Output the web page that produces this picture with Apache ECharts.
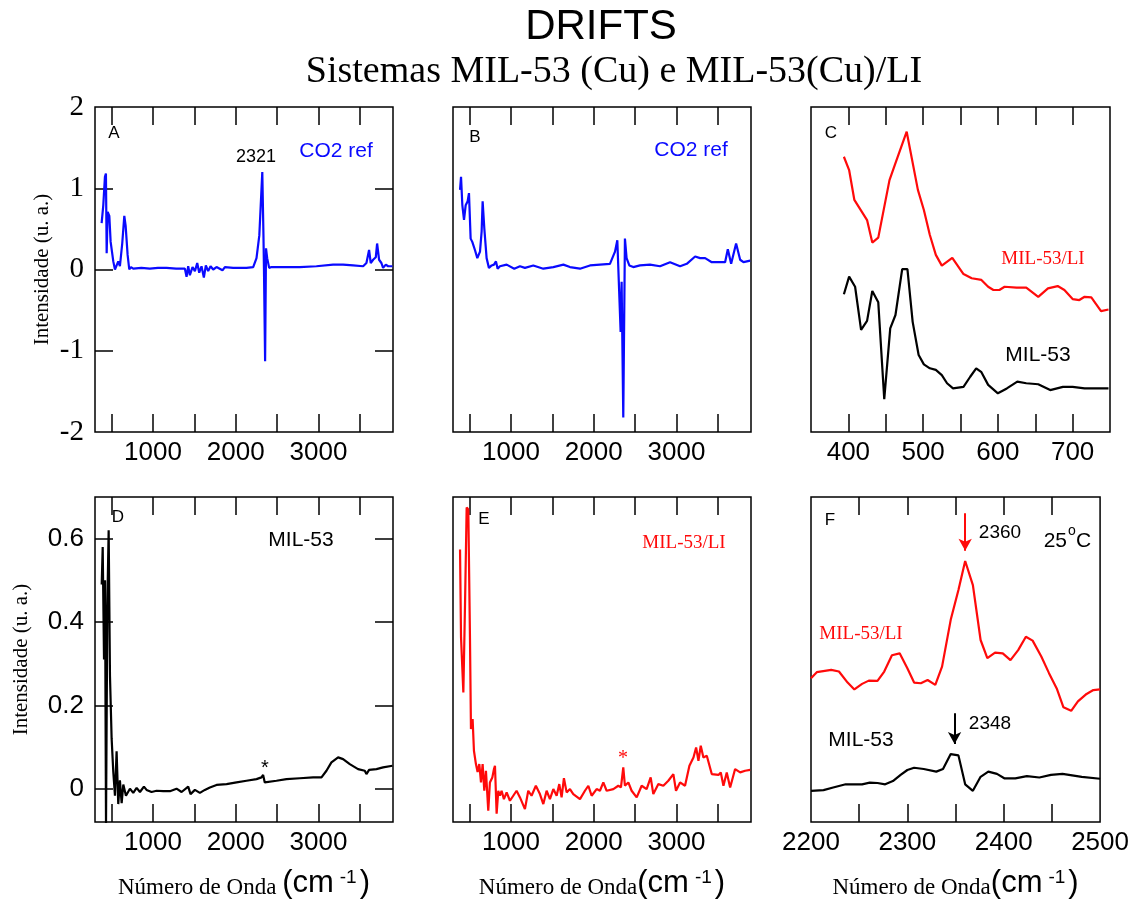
<!DOCTYPE html>
<html>
<head>
<meta charset="utf-8">
<script src="https://cdn.jsdelivr.net/npm/echarts@6/dist/echarts.min.js"></script>
<style>
  html, body { margin: 0; padding: 0; background: #fff; }
  #chart { width: 1132px; height: 904px; }
</style>
</head>
<body>
<div id="chart"></div>
<script>
// [wavenumber, intensity]
const co2RefA = [[380,0.57],[400,0.79],[420,1.14],[432,1.18],[441,0.2],[453,0.71],[473,0.66],[489,0.34],[521,0.1],[541,0],[561,-0.02],[581,0.1],[601,0.04],[629,0.32],[654,0.66],[670,0.54],[694,0.18],[714,0],[734,0.03],[762,0.01],[860,0.02],[963,0.01],[1060,0.02],[1164,0.02],[1280,0.01],[1386,0.01],[1406,-0.09],[1426,0.04],[1446,-0.07],[1478,0.03],[1507,-0.02],[1535,0.08],[1559,-0.04],[1587,0.04],[1615,-0.1],[1639,0.05],[1667,-0.02],[1696,0.04],[1728,0],[1768,0.03],[1840,-0.01],[1869,0.03],[1969,0.02],[2130,0.02],[2211,0.03],[2251,0.14],[2285,0.42],[2321,1.2],[2335,0.42],[2341,0.02],[2355,-1.13],[2366,0.26],[2380,0.14],[2404,0.02],[2432,0.03],[2613,0.03],[2774,0.03],[2975,0.04],[3176,0.06],[3297,0.06],[3418,0.05],[3539,0.04],[3579,0.08],[3611,0.24],[3631,0.08],[3660,0.12],[3692,0.15],[3708,0.32],[3732,0.12],[3760,0.08],[3780,0.02],[3813,0.06],[3841,0.04],[3893,0.04]];
const co2RefB = [[385,0.98],[397,1.14],[413,0.79],[433,0.61],[453,0.79],[477,0.84],[493,0.94],[513,0.38],[533,0.34],[565,0.24],[594,0.14],[626,0.22],[646,0.47],[658,0.84],[678,0.51],[706,0.14],[734,0.02],[767,0.05],[795,0.06],[819,0.1],[839,0.01],[867,0.04],[948,0.06],[1040,0.01],[1109,0.04],[1169,0.02],[1270,0.05],[1391,0.01],[1512,0.03],[1633,0.06],[1713,0.03],[1834,0.01],[1955,0.05],[2075,0.06],[2196,0.07],[2257,0.22],[2285,0.36],[2309,0.36],[2325,-0.77],[2337,-0.15],[2357,-1.82],[2377,0.38],[2397,0.14],[2430,0.05],[2478,0.03],[2559,0.05],[2680,0.06],[2801,0.04],[2922,0.09],[3043,0.04],[3124,0.07],[3225,0.16],[3285,0.14],[3346,0.14],[3426,0.09],[3527,0.09],[3587,0.09],[3620,0.25],[3660,0.07],[3720,0.32],[3769,0.12],[3809,0.09],[3890,0.11]];

// panel C, relative intensity (0-100 of the frame height)
const mil53LiC = [[394,84.7],[401,80.6],[408,71.4],[425,65.2],[432,58.3],[440,59.8],[455,77.5],[463,82.7],[478,92.4],[493,74.5],[501,68.3],[509,60.6],[517,54.5],[525,51.2],[539,53.6],[554,48.6],[565,47.3],[578,46.8],[587,44.7],[594,43.7],[602,43.7],[609,44.7],[625,44.4],[638,44.4],[654,41.6],[667,44.2],[680,44.9],[689,43.7],[700,40.9],[709,40.6],[716,41.6],[725,41.4],[738,37.2],[748,37.7]];
const mil53C = [[394,42.4],[401,47.8],[409,44.7],[417,31.4],[425,34.2],[432,43.4],[440,39.9],[448,10.1],[456,31.9],[463,36],[472,50.1],[479,50.1],[486,33.9],[494,23.7],[501,20.8],[509,19.6],[517,19.1],[525,17.5],[532,15],[540,13.4],[554,13.9],[563,17],[571,19.6],[578,18.4],[587,14.5],[600,11.9],[612,13.4],[626,15.5],[638,15],[654,14.7],[670,12.9],[687,13.9],[700,13.9],[716,13.4],[748,13.4]];

const mil53D = [[381,0.49],[393,0.58],[409,0.31],[421,0.5],[433,-0.085],[449,0.44],[465,0.62],[481,0.27],[501,0.12],[521,0.04],[541,-0.017],[561,0.09],[581,-0.037],[601,0.02],[622,-0.035],[642,0.01],[674,-0.017],[722,0],[762,-0.01],[803,0.002],[843,-0.008],[891,0.005],[923,-0.003],[983,-0.008],[1044,-0.005],[1124,-0.006],[1205,-0.006],[1285,0],[1346,-0.008],[1426,0.005],[1454,-0.013],[1507,-0.003],[1567,-0.01],[1627,-0.003],[1688,0.003],[1768,0.009],[1889,0.011],[2010,0.015],[2130,0.019],[2251,0.023],[2311,0.027],[2331,0.033],[2351,0.015],[2372,0.019],[2492,0.019],[2613,0.023],[2774,0.025],[2935,0.027],[3036,0.027],[3096,0.043],[3156,0.063],[3237,0.075],[3297,0.071],[3378,0.059],[3478,0.047],[3559,0.043],[3579,0.035],[3611,0.045],[3700,0.047],[3780,0.051],[3893,0.055]];
const mil53LiE = [[385,0.574],[397,0.363],[425,0.231],[445,0.44],[465,0.675],[485,0.67],[505,0.363],[517,0.143],[537,0.167],[553,0.091],[577,0.059],[597,0.04],[618,0.059],[638,0.015],[658,0.059],[678,-0.005],[698,0.043],[726,-0.053],[746,0.015],[775,0.027],[795,0.047],[807,0.055],[827,-0.06],[847,-0.005],[867,-0.017],[887,-0.005],[915,-0.025],[948,-0.009],[988,-0.029],[1028,-0.017],[1068,-0.005],[1109,-0.021],[1169,-0.049],[1209,-0.005],[1249,-0.017],[1301,0.007],[1350,-0.013],[1391,-0.037],[1431,-0.005],[1471,-0.025],[1512,-0.001],[1552,-0.017],[1584,0.011],[1612,-0.021],[1640,0.025],[1673,-0.009],[1713,-0.001],[1753,-0.013],[1834,-0.025],[1894,-0.005],[1935,0.007],[1975,-0.017],[2035,-0.001],[2075,-0.005],[2116,0.015],[2156,-0.005],[2237,-0.001],[2297,0.007],[2329,0.003],[2357,0.051],[2377,0.007],[2418,0.015],[2458,-0.005],[2519,-0.021],[2579,0.007],[2639,-0.001],[2688,0.027],[2720,-0.013],[2781,0.011],[2841,0.007],[2901,0.019],[2962,0.035],[2994,-0.005],[3043,0.015],[3103,0.007],[3156,0.055],[3205,0.075],[3237,0.099],[3265,0.067],[3293,0.103],[3325,0.075],[3366,0.079],[3426,0.035],[3507,0.033],[3535,0.039],[3567,0.007],[3607,0.039],[3648,0.003],[3708,0.047],[3769,0.039],[3829,0.043],[3890,0.045]];

// panel F, relative intensity (0-100 of the frame height)
const mil53LiF = [[2200,44.2],[2206,46.1],[2221,46.8],[2229,46.3],[2238,42.9],[2245,40.8],[2253,42.5],[2260,43.5],[2269,43.4],[2276,46.3],[2284,51.3],[2292,51.9],[2300,47.3],[2307,42.9],[2314,42.7],[2321,43.7],[2329,42.2],[2336,47.8],[2345,62.2],[2353,71.4],[2360,80.3],[2368,72.9],[2376,56],[2383,50.4],[2391,52.1],[2399,51.9],[2407,49.8],[2415,52.9],[2423,57],[2430,55.8],[2439,50.9],[2447,45.8],[2455,41.1],[2462,35.3],[2470,34.2],[2477,37.1],[2486,39.4],[2493,40.6],[2500,40.8]];
const mil53F = [[2200,9.6],[2213,9.8],[2223,10.6],[2236,11.6],[2253,11.6],[2261,12.1],[2269,12],[2277,11.6],[2285,12.6],[2293,14.5],[2300,16],[2307,16.7],[2317,16.3],[2330,15.5],[2337,16.3],[2345,20.9],[2353,20.5],[2360,11.6],[2368,9.6],[2376,13.9],[2384,15.5],[2393,14.8],[2401,13.4],[2412,13.4],[2424,14.1],[2437,13.7],[2449,14.5],[2461,14.8],[2481,13.9],[2500,13.3]];

// ticks and tick labels
const wideTicks = [500, 1000, 1500, 2000, 2500, 3000, 3500];
const wideLabels = [1000, 2000, 3000];
const lowTicks = [400, 450, 500, 550, 600, 650, 700];
const lowLabels = [400, 500, 600, 700];
const co2Ticks = [2250, 2300, 2350, 2400, 2450];
const co2Labels = [2200, 2300, 2400, 2500];
const refYTicks = [-1, 0, 1];
const refYLabels = [-2, -1, 0, 1, 2];
const dYTicks = [0, 0.2, 0.4, 0.6];

const SANS = '"Liberation Sans", Arial, Helvetica, sans-serif';
const SERIF = '"Liberation Serif", "Times New Roman", serif';
const BLUE = '#0a0aff';
const RED = '#ff0a0a';
const TICK_LEN = 18;
const FRAME_H = 325;

const grids = [
  { left: 95, top: 107, width: 298, height: FRAME_H },
  { left: 453, top: 107, width: 298, height: FRAME_H },
  { left: 811, top: 107, width: 299, height: FRAME_H },
  { left: 95, top: 497, width: 298, height: FRAME_H },
  { left: 453, top: 497, width: 298, height: FRAME_H },
  { left: 811, top: 497, width: 299, height: FRAME_H }
].map(g => Object.assign({ show: true, borderColor: '#000', borderWidth: 1.5, backgroundColor: 'transparent' }, g));

const xName = (space) => '{s|Número de Onda' + (space ? ' ' : '') + '}{c|(cm}{p|-1}{c|)}';
const xNameStyle = {
  rich: {
    s: { fontFamily: SERIF, fontSize: 23, color: '#000', verticalAlign: 'bottom' },
    c: { fontFamily: SANS, fontSize: 31, color: '#000', verticalAlign: 'bottom' },
    p: { fontFamily: SANS, fontSize: 19, color: '#000', verticalAlign: 'top', padding: [0, 3, 0, 6] }
  }
};

const panels = [
  { x: [300, 3900], xt: wideTicks, xl: wideLabels, y: [-2, 2], yt: refYTicks, yl: refYLabels, yFont: SERIF, ySize: 29, yName: 'Intensidade (u. a.)', yGap: 42 },
  { x: [300, 3900], xt: wideTicks, xl: wideLabels, y: [-2, 2] },
  { x: [350, 750], xt: lowTicks, xl: lowLabels, y: [0, 100] },
  { x: [300, 3900], xt: wideTicks, xl: wideLabels, y: [-0.08, 0.7], yt: dYTicks, yl: dYTicks, yFont: SANS, ySize: 26, yName: 'Intensidade (u. a.)', yGap: 63, xName: xName(true) },
  { x: [300, 3900], xt: wideTicks, xl: wideLabels, y: [-0.08, 0.7], xName: xName(false) },
  { x: [2200, 2500], xt: co2Ticks, xl: co2Labels, y: [0, 100], xName: xName(false) }
];

const tick = (values) => ({
  show: !!values, inside: true, length: TICK_LEN, customValues: values || [],
  lineStyle: { color: '#000', width: 1.5 }
});
const noLine = { show: false, onZero: false };
const plain = (v) => String(v);

const xAxes = [];
const yAxes = [];
panels.forEach((p, i) => {
  xAxes.push({
    type: 'value', gridIndex: i, position: 'bottom', min: p.x[0], max: p.x[1],
    axisLine: noLine, splitLine: { show: false }, axisTick: { show: false },
    axisLabel: { customValues: p.xl, formatter: plain, fontFamily: SANS, fontSize: 26, color: '#000', margin: 8 },
    name: p.xName || '', nameLocation: 'middle', nameGap: 46, nameTextStyle: xNameStyle
  });
  xAxes.push({
    type: 'value', gridIndex: i, position: 'top', min: p.x[0], max: p.x[1],
    axisLine: noLine, splitLine: { show: false }, axisTick: tick(p.xt),
    axisLabel: { show: false }
  });
});
panels.forEach((p, i) => {
  yAxes.push({
    type: 'value', gridIndex: i, position: 'left', min: p.y[0], max: p.y[1],
    axisLine: noLine, splitLine: { show: false }, axisTick: tick(p.yt),
    axisLabel: p.yl ? { customValues: p.yl, formatter: plain, fontFamily: p.yFont, fontSize: p.ySize, color: '#000', margin: 11 } : { show: false },
    name: p.yName || '', nameLocation: 'middle', nameGap: p.yGap || 0,
    nameTextStyle: { fontFamily: SERIF, fontSize: 21, color: '#000' }
  });
});
// right-hand ticks on A and D
[0, 3].forEach(i => {
  const p = panels[i];
  yAxes.push({
    type: 'value', gridIndex: i, position: 'right', min: p.y[0], max: p.y[1],
    axisLine: noLine, splitLine: { show: false }, axisTick: tick(p.yt),
    axisLabel: { show: false }
  });
});

// inward ticks along the bottom edge, as short segments in the panel's own scale
const bottomTicks = (p) => {
  const h = (p.y[1] - p.y[0]) * TICK_LEN / FRAME_H;
  return p.xt.map(v => [
    { coord: [v, p.y[0]], lineStyle: { color: '#000', width: 1.5, type: 'solid' } },
    { coord: [v, p.y[0] + h] }
  ]);
};
const arrowSeg = (x, y1, y2, color) => [
  { coord: [x, y1], lineStyle: { color, width: 2, type: 'solid' } },
  { coord: [x, y2], symbol: 'arrow', symbolSize: [10, 12] }
];
const marks = (segs) => ({
  silent: true, symbol: 'none', label: { show: false },
  lineStyle: { color: '#000', width: 1.5, type: 'solid' },
  emphasis: { disabled: true },
  data: segs
});

const line = (name, data, panel, color, extra) => Object.assign({
  name, type: 'line', data, xAxisIndex: panel * 2, yAxisIndex: panel,
  symbol: 'none', smooth: false, clip: true,
  lineStyle: { color, width: 2.2 }, itemStyle: { color }
}, extra || {});

const txt = (text, x, y, opt) => ({
  type: 'text', x, y, silent: true,
  style: Object.assign({ text, fill: '#000', fontFamily: SANS, fontSize: 17, textAlign: 'center', textVerticalAlign: 'middle' }, opt || {})
});

const option = {
  animation: false,
  backgroundColor: '#fff',
  grid: grids,
  xAxis: xAxes,
  yAxis: yAxes,
  series: [
    line('CO2 ref A', co2RefA, 0, BLUE, { markLine: marks(bottomTicks(panels[0])) }),
    line('CO2 ref B', co2RefB, 1, BLUE, { markLine: marks(bottomTicks(panels[1])) }),
    line('MIL-53/LI C', mil53LiC, 2, RED, { markLine: marks(bottomTicks(panels[2])) }),
    line('MIL-53 C', mil53C, 2, '#000'),
    line('MIL-53 D', mil53D, 3, '#000', { markLine: marks(bottomTicks(panels[3])) }),
    line('MIL-53/LI E', mil53LiE, 4, RED, { markLine: marks(bottomTicks(panels[4])) }),
    line('MIL-53/LI F', mil53LiF, 5, RED, { markLine: marks([arrowSeg(2360, 95, 83.5, RED)]) }),
    line('MIL-53 F', mil53F, 5, '#000', { markLine: marks(bottomTicks(panels[5]).concat([arrowSeg(2349, 33.5, 24, '#000')])) })
  ],
  graphic: [
    txt('DRIFTS', 601, 27, { fontSize: 42 }),
    txt('Sistemas MIL-53 (Cu) e MIL-53(Cu)/LI', 614, 72, { fontFamily: SERIF, fontSize: 38 }),
    // A
    txt('A', 114, 133),
    txt('2321', 256, 157, { fontSize: 18 }),
    txt('CO2 ref', 336, 151, { fontSize: 21, fill: BLUE }),
    // B
    txt('B', 475, 137),
    txt('CO2 ref', 691, 150, { fontSize: 21, fill: BLUE }),
    // C
    txt('C', 831, 133),
    txt('MIL-53/LI', 1043, 259, { fontFamily: SERIF, fontSize: 19, fill: RED }),
    txt('MIL-53', 1038, 355, { fontSize: 21 }),
    // D
    txt('D', 118, 517),
    txt('MIL-53', 301, 540, { fontSize: 21 }),
    txt('*', 265, 768, { fontSize: 20 }),
    // E
    txt('E', 484, 519),
    txt('MIL-53/LI', 684, 543, { fontFamily: SERIF, fontSize: 19, fill: RED }),
    txt('*', 623, 759, { fontFamily: SERIF, fontSize: 20, fill: RED }),
    // F
    txt('F', 830, 520),
    txt('2360', 1000, 533, { fontSize: 19 }),
    txt('25', 1067, 541, { fontSize: 21, textAlign: 'right' }),
    txt('o', 1072, 531, { fontSize: 14 }),
    txt('C', 1076, 541, { fontSize: 21, textAlign: 'left' }),
    txt('MIL-53/LI', 861, 634, { fontFamily: SERIF, fontSize: 19, fill: RED }),
    txt('2348', 990, 724, { fontSize: 19 }),
    txt('MIL-53', 861, 740, { fontSize: 21 })
  ]
};

const chart = echarts.init(document.getElementById('chart'), null, { renderer: 'canvas' });
chart.setOption(option);
</script>
</body>
</html>
